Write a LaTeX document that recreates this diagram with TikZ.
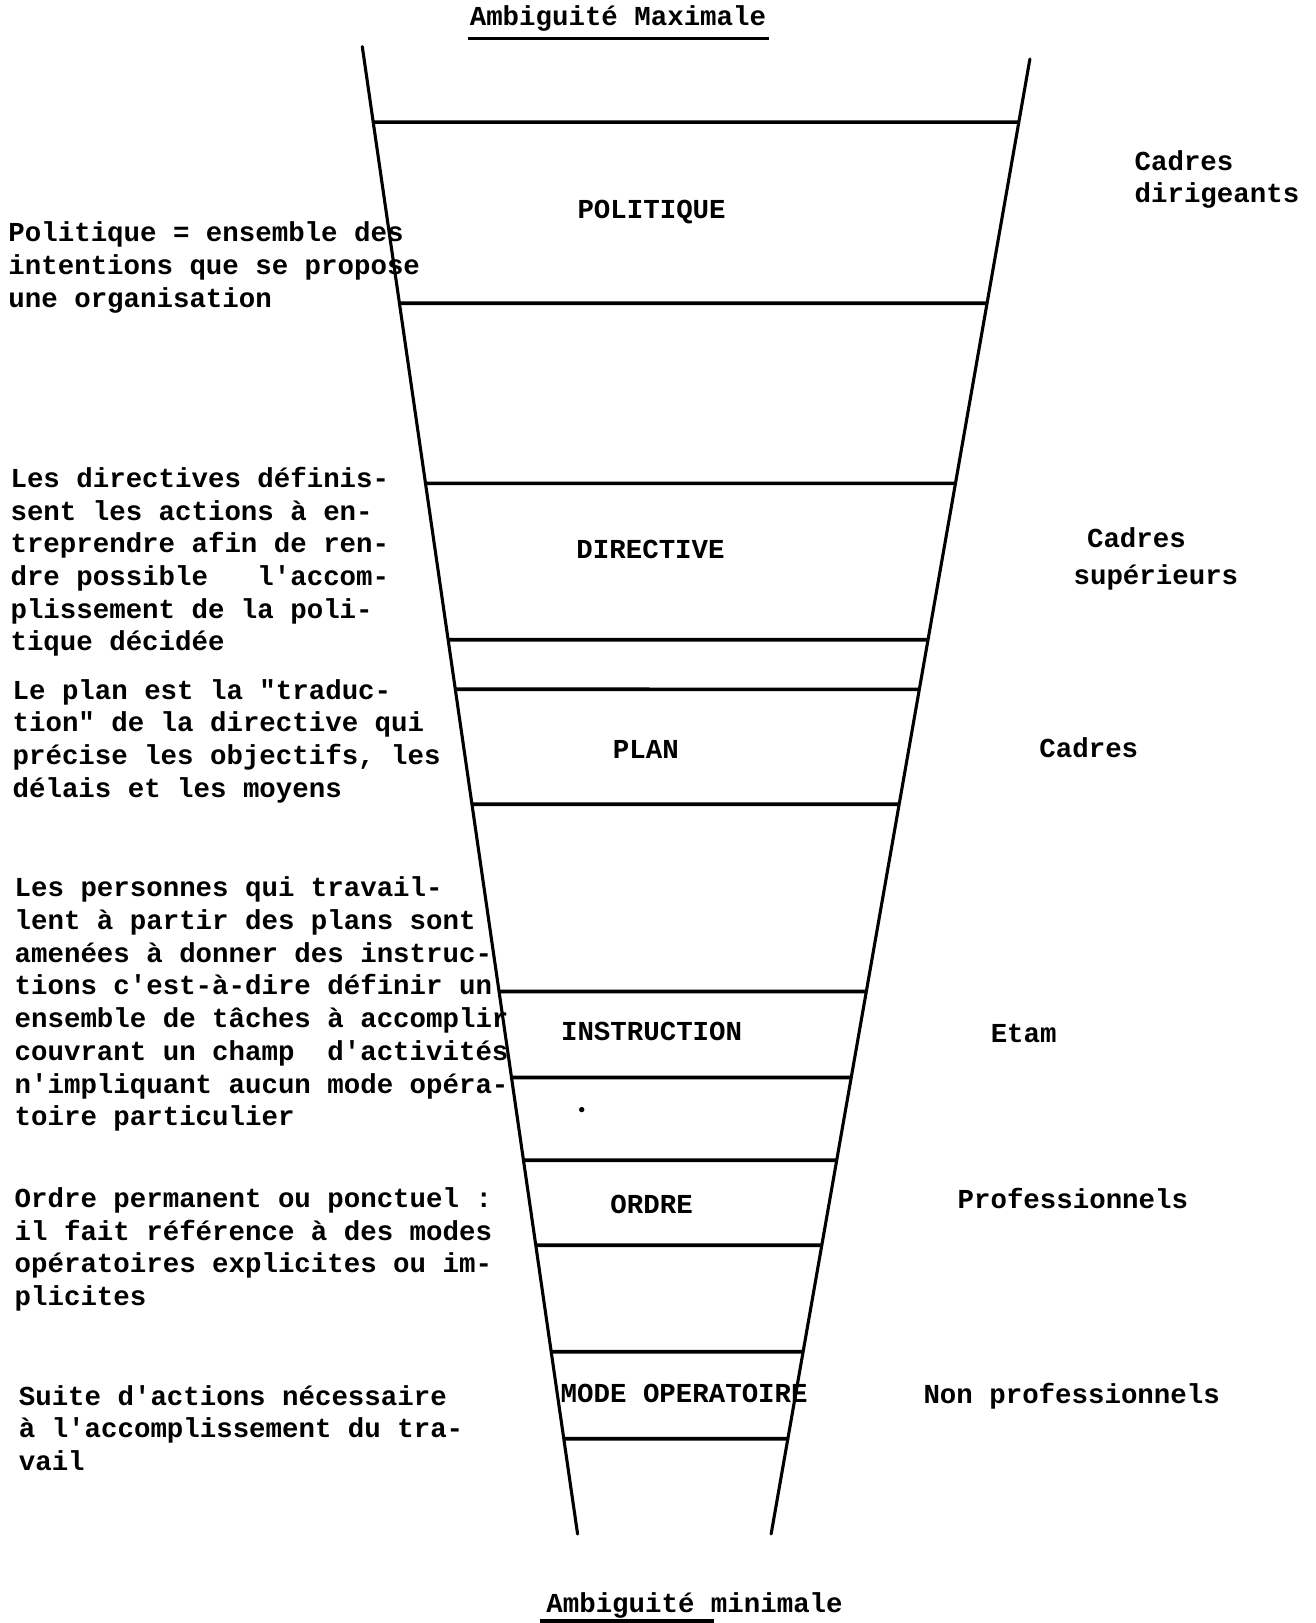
\documentclass[tikz,border=0pt]{standalone}
\usepackage{fontspec}
\setmonofont{Liberation Mono}
\usetikzlibrary{calc}
\begin{document}
\begin{tikzpicture}[x=1pt,y=-1pt,
  typed/.style={font=\ttfamily\bfseries\fontsize{26.5}{31.6}\selectfont, inner sep=0pt},
  note/.style={typed, anchor=north west, align=left, execute at begin node=\strut},
  level/.style={typed, anchor=base},
  who/.style={typed, anchor=base west, align=left},
  side/.style={line width=3pt, line cap=round},
  rung/.style={line width=3.6pt}]
\useasboundingbox[fill=white] (0,0) rectangle (1271,1568);

% headings
\node[typed, anchor=base] (top) at (597,25) {Ambiguité Maximale};
\draw[line width=3pt] (452,37) -- (743,37);
\node[typed, anchor=base] (bottom) at (671,1558) {Ambiguité minimale};
\draw[line width=3pt] (522,1566) -- (690,1566);

% funnel sides
\coordinate (LT) at (350,45);
\coordinate (LB) at (558,1482);
\coordinate (RT) at (995,57);
\coordinate (RB) at (745,1482);
\draw[side] (LT) -- (LB);
\draw[side] (RT) -- (RB);

% rungs
\foreach \y in {118,293,467,618,666,777,958,1041,1121,1203,1306,1390}{
  \draw[rung] ($(LT)!{(\y-45)/1437}!(LB)$) -- ($(RT)!{(\y-57)/1425}!(RB)$);
}
\fill (562,1072) circle (2.6pt);

% levels
\node[level] (pol) at (629.5,211) {POLITIQUE};
\node[level] (dir) at (628.5,540) {DIRECTIVE};
\node[level] (pla) at (624,733) {PLAN};
\node[level] (ins) at (629.5,1005) {INSTRUCTION};
\node[level] (ord) at (629.5,1172) {ORDRE};
\node[level] (mod) at (661,1355) {MODE OPERATOIRE};

% definitions
\node[note] (npol) at (8,214) {Politique = ensemble des\\intentions que se propose\\une organisation};
\node[note] (ndir) at (10,451) {Les directives définis-\\sent les actions à en-\\treprendre afin de ren-\\dre possible\ \ \ l'accom-\\plissement de la poli-\\tique décidée};
\node[note] (npla) at (12,656) {Le plan est la "traduc-\\tion" de la directive qui\\précise les objectifs, les\\délais et les moyens};
\node[note] (nins) at (14,847) {Les personnes qui travail-\\lent à partir des plans sont\\amenées à donner des instruc-\\tions c'est-à-dire définir un\\ensemble de tâches à accomplir\\couvrant un champ\ \ d'activités\\n'impliquant aucun mode opéra-\\toire particulier};
\node[note] (nord) at (14,1147) {Ordre permanent ou ponctuel :\\il fait référence à des modes\\opératoires explicites ou im-\\plicites};
\node[note] (nmod) at (18,1338) {Suite d'actions nécessaire\\à l'accomplissement du tra-\\vail};

% staff categories (base anchor sits on the last line)
\node[who] (wpol) at (1096,196) {Cadres\\dirigeants};
\node[who] (wdir) at (1037,565) {\hspace*{13pt}Cadres\\[4.4pt]supérieurs};
\node[who] (wpla) at (1004,732) {Cadres};
\node[who] (wins) at (957,1007) {Etam};
\node[who] (word) at (925,1168) {Professionnels};
\node[who] (wmod) at (892,1356) {Non professionnels};
\end{tikzpicture}
\end{document}
